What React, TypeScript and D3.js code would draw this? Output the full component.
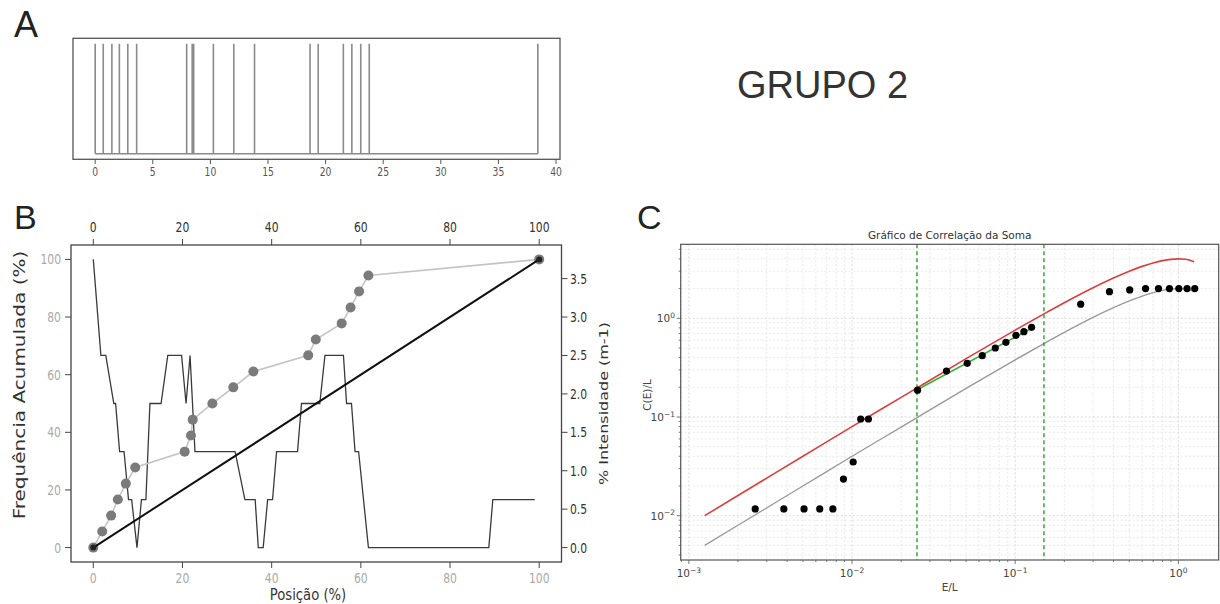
import React from "react";
import * as d3 from "d3";

const W = 1220;
const H = 604;

// ---------- Panel A: fracture positions along the scanline (m) ----------
const fracturePositions = [
  0, 0.7, 1.45, 2.1, 2.83, 3.6, 7.94, 8.42, 8.55, 10.26, 12.03, 13.83, 18.65,
  19.36, 21.54, 22.28, 23.05, 23.79, 38.42,
];
const scanTicks = [0, 5, 10, 15, 20, 25, 30, 35, 40];

// ---------- Panel B: cumulative frequency and intensity ----------
const cumPosition = [
  0, 2.0, 4.0, 5.5, 7.3, 9.4, 20.5, 21.9, 22.3, 26.7, 31.4, 35.9, 48.2, 49.9,
  55.7, 57.7, 59.6, 61.7, 100,
];
const cumFrequency = [
  0, 5.6, 11.1, 16.7, 22.2, 27.8, 33.3, 38.9, 44.4, 50, 55.6, 61.1, 66.7, 72.2,
  77.8, 83.3, 88.9, 94.4, 100,
];
const intensityPos = [
  0, 1.7, 2.8, 4.6, 5.0, 5.9, 6.9, 7.9, 8.6, 9.8, 10.8, 11.8, 12.7, 15.2, 16.7,
  19.8, 20.8, 21.7, 22.8, 31.8, 34.0, 36.3, 37.0, 38.1, 39.1, 40.2, 41.1, 45.8,
  46.7, 50.8, 51.95, 56.1, 56.8, 57.9, 58.7, 59.5, 61.7, 88.7, 89.6, 99,
];
const intensityVal = [
  3.75, 2.5, 2.5, 1.875, 1.875, 1.25, 1.25, 0.625, 0.625, 0, 0.625, 0.625,
  1.875, 1.875, 2.5, 2.5, 1.875, 2.5, 1.25, 1.25, 0.625, 0.625, 0, 0, 0.625,
  0.625, 1.25, 1.25, 1.875, 1.875, 2.5, 2.5, 1.875, 1.875, 1.25, 1.25, 0, 0,
  0.625, 0.625,
];
const uniformPos = [0, 100];
const uniformFreq = [0, 100];
const pctTicks = [0, 20, 40, 60, 80, 100];
const intensityTicks = [0, 0.5, 1, 1.5, 2, 2.5, 3, 3.5];

// ---------- Panel C: correlation sum ----------
const dotX = [
  0.00255, 0.00382, 0.00508, 0.00634, 0.00763, 0.00886, 0.01016, 0.0113,
  0.0126, 0.0252, 0.0379, 0.0508, 0.0628, 0.0755, 0.0877, 0.101, 0.113, 0.126,
  0.252, 0.378, 0.503, 0.629, 0.755, 0.881, 1.006, 1.13, 1.26,
];
const dotY = [
  0.0117, 0.0117, 0.0117, 0.0117, 0.0117, 0.0235, 0.035, 0.0955, 0.0955,
  0.187, 0.292, 0.35, 0.418, 0.5, 0.571, 0.673, 0.732, 0.811, 1.39, 1.86,
  1.94, 2.0, 2.0, 2.0, 2.0, 2.0, 2.0,
];
const curveX = [
  0.00125, 0.002, 0.005, 0.01, 0.02, 0.05, 0.1, 0.15, 0.2, 0.3, 0.4, 0.5, 0.6,
  0.7, 0.8, 0.9, 1.0, 1.1, 1.2, 1.25,
];
const upperY = [
  0.01, 0.016, 0.04, 0.08, 0.158, 0.39, 0.76, 1.11, 1.44, 2.04, 2.56, 3.0,
  3.36, 3.64, 3.84, 3.96, 4.0, 3.96, 3.84, 3.75,
];
const lowerY = [
  0.005, 0.008, 0.02, 0.04, 0.079, 0.195, 0.38, 0.555, 0.72, 1.02, 1.28, 1.5,
  1.68, 1.82, 1.92, 1.98, 2.0, 1.98, 1.92, 1.875,
];
const fitX = [0.0252, 0.126];
const fitY = [0.19, 0.79];
const cutoffs = [0.025, 0.15];
const logTickExps = [-3, -2, -1, 0];

const MPL = "'DejaVu Sans', sans-serif";
const SQ = 0.8;

type STextProps = {
  x: number;
  y: number;
  rotate?: number;
  sx?: number;
  children: React.ReactNode;
  [k: string]: any;
};

// matplotlib-style text, optionally condensed horizontally
function SText({ x, y, rotate = 0, sx = SQ, children, ...rest }: STextProps) {
  return (
    <g transform={`translate(${x},${y}) scale(${sx},1) rotate(${rotate})`}>
      <text fontFamily={MPL} {...rest}>
        {children}
      </text>
    </g>
  );
}

function PanelA() {
  const x = d3.scaleLinear().domain([-1.925, 40.345]).range([73, 560]);
  const y = d3.scaleLinear().domain([-0.05, 1.05]).range([159.3, 38.3]);
  const first = d3.min(fracturePositions)!;
  const last = d3.max(fracturePositions)!;
  return (
    <g>
      <line x1={x(first)} x2={x(last)} y1={y(0)} y2={y(0)} stroke="#8a8a8a" strokeWidth={1.6} />
      {fracturePositions.map((p, i) => (
        <line key={i} x1={x(p)} x2={x(p)} y1={y(0)} y2={y(1)} stroke="#8a8a8a" strokeWidth={1.6} />
      ))}
      <rect x={73} y={38.3} width={560 - 73} height={159.3 - 38.3} fill="none" stroke="#555" strokeWidth={1.3} />
      {scanTicks.map((t) => (
        <g key={t}>
          <line x1={x(t)} x2={x(t)} y1={159.3} y2={164} stroke="#555" strokeWidth={1} />
          <SText x={x(t)} y={176} fontSize={11.5} fill="#555" textAnchor="middle">
            {t}
          </SText>
        </g>
      ))}
    </g>
  );
}

function PanelB() {
  const x = d3.scaleLinear().domain([-5, 105]).range([71, 561.5]);
  const yL = d3.scaleLinear().domain([-5, 105]).range([562, 245]);
  const yR = d3.scaleLinear().domain([-0.1875, 3.9375]).range([562, 245]);
  const stepLine = d3
    .line<number>()
    .x((_, i) => x(intensityPos[i]))
    .y((v) => yR(v))(intensityVal);
  const cumLine = d3
    .line<number>()
    .x((_, i) => x(cumPosition[i]))
    .y((v) => yL(v))(cumFrequency);
  const uniLine = d3
    .line<number>()
    .x((_, i) => x(uniformPos[i]))
    .y((v) => yL(v))(uniformFreq);
  return (
    <g>
      <path d={stepLine!} fill="none" stroke="#3a3a3a" strokeWidth={1.3} />
      <path d={cumLine!} fill="none" stroke="#c4c4c4" strokeWidth={1.6} />
      {cumFrequency.map((v, i) => (
        <circle key={i} cx={x(cumPosition[i])} cy={yL(v)} r={5} fill="#7b7b7b" />
      ))}
      <path d={uniLine!} fill="none" stroke="#111" strokeWidth={2} />
      {uniformFreq.map((v, i) => (
        <circle key={i} cx={x(uniformPos[i])} cy={yL(v)} r={3} fill="#222" />
      ))}
      <rect x={71} y={245} width={561.5 - 71} height={562 - 245} fill="none" stroke="#444" strokeWidth={1.3} />
      {pctTicks.map((t) => (
        <g key={"b" + t}>
          <line x1={x(t)} x2={x(t)} y1={562} y2={568} stroke="#444" />
          <SText x={x(t)} y={583} fontSize={13.5} fill="#aaa" textAnchor="middle">
            {t}
          </SText>
          <line x1={x(t)} x2={x(t)} y1={245} y2={239} stroke="#444" />
          <SText x={x(t)} y={232} fontSize={13.5} fill="#333" textAnchor="middle">
            {t}
          </SText>
          <line x1={71} x2={65} y1={yL(t)} y2={yL(t)} stroke="#444" />
          <SText x={61} y={yL(t) + 5} fontSize={13.5} fill="#aaa" textAnchor="end">
            {t}
          </SText>
        </g>
      ))}
      {intensityTicks.map((t) => (
        <g key={"r" + t}>
          <line x1={561.5} x2={567.5} y1={yR(t)} y2={yR(t)} stroke="#444" />
          <SText x={570} y={yR(t) + 5} fontSize={13.5} fill="#333" textAnchor="start">
            {t.toFixed(1)}
          </SText>
        </g>
      ))}
      <SText x={25} y={385} rotate={-90} fontSize={20} fill="#333" textAnchor="middle">
        Frequência Acumulada (%)
      </SText>
      <SText x={608} y={403.5} rotate={-90} fontSize={16} fill="#333" textAnchor="middle">
        % Intensidade (m-1)
      </SText>
      <SText x={308} y={600} fontSize={16.5} fill="#333" textAnchor="middle">
        Posição (%)
      </SText>
    </g>
  );
}

function Pow10({ e, x, y, anchor }: { e: number; x: number; y: number; anchor: string }) {
  const exp = e < 0 ? "\u2212" + Math.abs(e) : String(e);
  return (
    <SText x={x} y={y} sx={1} fontSize={10.5} fill="#444" textAnchor={anchor}>
      10
      <tspan dy={-4.5} fontSize={7.5}>
        {exp}
      </tspan>
    </SText>
  );
}

function PanelC() {
  const L = 680.7;
  const R = 1218.7;
  const T = 244.3;
  const B = 560;
  const x = d3.scaleLog().domain([Math.pow(10, -3.05), Math.pow(10, 0.247)]).range([L, R]);
  const y = d3.scaleLog().domain([Math.pow(10, -2.449), Math.pow(10, 0.75)]).range([B, T]);
  const xMinor = x.ticks().filter((v) => x(v) >= L && x(v) <= R);
  const yMinor = y.ticks().filter((v) => y(v) >= T && y(v) <= B);
  const isMajor = (v: number) => Math.abs(Math.log10(v) - Math.round(Math.log10(v))) < 1e-6;
  const curve = (ys: number[]) =>
    d3
      .line<number>()
      .x((_, i) => x(curveX[i]))
      .y((v) => y(v))
      .curve(d3.curveMonotoneX)(ys)!;
  const fit = d3
    .line<number>()
    .x((_, i) => x(fitX[i]))
    .y((v) => y(v))(fitY)!;
  return (
    <g>
      <defs>
        <clipPath id="clipC">
          <rect x={L} y={T} width={R - L} height={B - T} />
        </clipPath>
      </defs>
      <g clipPath="url(#clipC)">
        {xMinor.map((v, i) => (
          <line key={"gx" + i} x1={x(v)} x2={x(v)} y1={T} y2={B}
            stroke={isMajor(v) ? "#cfcfcf" : "#e2e2e2"} strokeWidth={0.8} strokeDasharray="2,2" />
        ))}
        {yMinor.map((v, i) => (
          <line key={"gy" + i} x1={L} x2={R} y1={y(v)} y2={y(v)}
            stroke={isMajor(v) ? "#cfcfcf" : "#e2e2e2"} strokeWidth={0.8} strokeDasharray="2,2" />
        ))}
        <path d={curve(upperY)} fill="none" stroke="#d8403f" strokeWidth={1.6} />
        <path d={curve(lowerY)} fill="none" stroke="#9a9a9a" strokeWidth={1.4} />
        {cutoffs.map((c) => (
          <line key={c} x1={x(c)} x2={x(c)} y1={T} y2={B} stroke="#2e9e2e" strokeWidth={1.4} strokeDasharray="4,3" />
        ))}
        <path d={fit} fill="none" stroke="#38b038" strokeWidth={1.6} />
        {dotX.map((v, i) => (
          <circle key={i} cx={x(v)} cy={y(dotY[i])} r={3.6} fill="#000" />
        ))}
      </g>
      <rect x={L} y={T} width={R - L} height={B - T} fill="none" stroke="#555" strokeWidth={1.2} />
      {xMinor.map((v, i) => (
        <line key={"tx" + i} x1={x(v)} x2={x(v)} y1={B} y2={B + (isMajor(v) ? 4 : 2)} stroke="#555" strokeWidth={0.8} />
      ))}
      {yMinor.map((v, i) => (
        <line key={"ty" + i} x1={L} x2={L - (isMajor(v) ? 4 : 2)} y1={y(v)} y2={y(v)} stroke="#555" strokeWidth={0.8} />
      ))}
      {logTickExps.map((e) => (
        <Pow10 key={"lx" + e} e={e} x={x(Math.pow(10, e))} y={577} anchor="middle" />
      ))}
      {[-2, -1, 0].map((e) => (
        <Pow10 key={"ly" + e} e={e} x={675} y={y(Math.pow(10, e)) + 4} anchor="end" />
      ))}
      <SText x={(L + R) / 2} y={239} sx={1} fontSize={10.5} fill="#333" textAnchor="middle">
        Gráfico de Correlação da Soma
      </SText>
      <SText x={(L + R) / 2} y={591} sx={1} fontSize={10.5} fill="#444" textAnchor="middle">
        E/L
      </SText>
      <SText x={651} y={395} sx={1} rotate={-90} fontSize={10.5} fill="#444" textAnchor="middle">
        C(E)/L
      </SText>
    </g>
  );
}

export default function App() {
  const sans = "'Liberation Sans', Arial, sans-serif";
  return (
    <svg
      width={W}
      height={H}
      viewBox={`0 0 ${W} ${H}`}
      style={{ position: "absolute", left: 0, top: 0, background: "#fff" }}
    >
      <rect width={W} height={H} fill="#fff" />
      <text x={14} y={37} fontFamily={sans} fontSize={36} fill="#222">A</text>
      <text x={14} y={229} fontFamily={sans} fontSize={34} fill="#222">B</text>
      <text x={637} y={229} fontFamily={sans} fontSize={34} fill="#222">C</text>
      <text x={737} y={98} fontFamily={sans} fontSize={38} fill="#333">GRUPO 2</text>
      <PanelA />
      <PanelB />
      <PanelC />
    </svg>
  );
}
